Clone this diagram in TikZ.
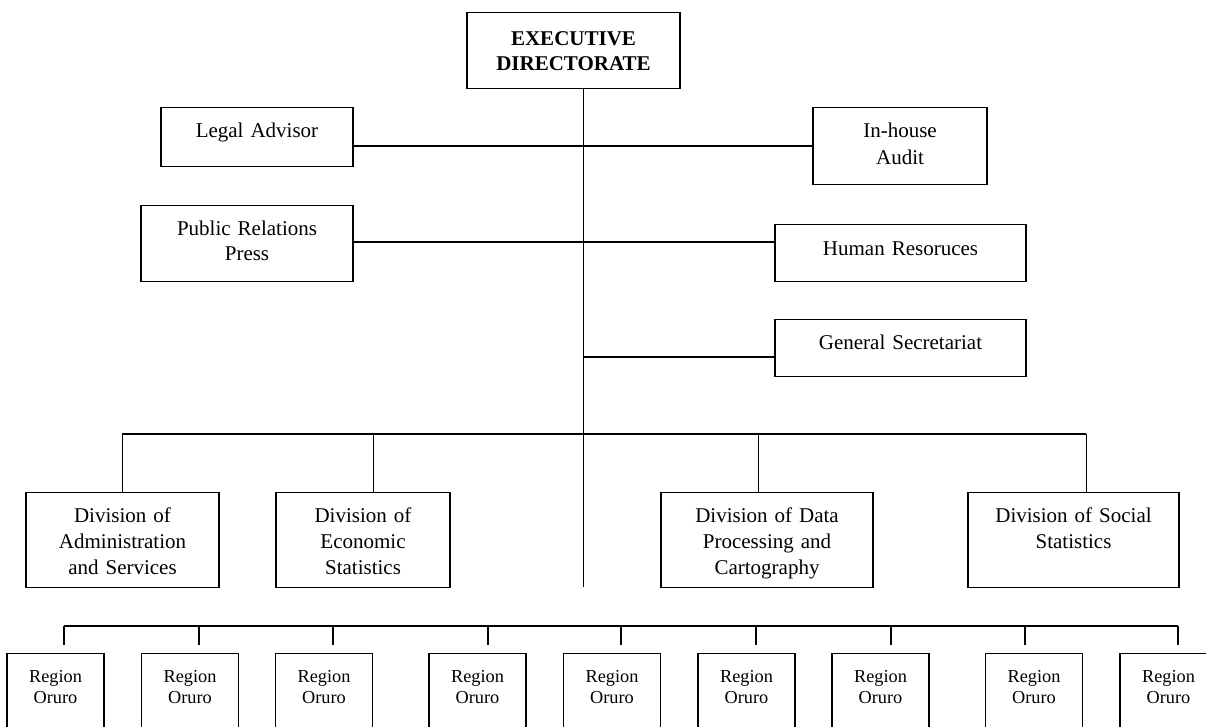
\documentclass[tikz,border=0pt]{standalone}
\usepackage{fontspec}
\setmainfont{Liberation Serif}
\usetikzlibrary{positioning, calc}

\begin{document}
\begin{tikzpicture}[x=1pt, y=-1pt,
	box/.style={draw, line width=1.4pt, inner sep=0pt, anchor=north, align=center,
		font=\fontsize{21}{26}\selectfont, text height=30pt},
	region/.style={box, font=\fontsize{18.3}{21}\selectfont, text width=97pt,
		text height=29pt, text depth=63pt},
	link/.style={line width=1.4pt},
	thin link/.style={line width=0.9pt}]
	\clip (0,0) rectangle (1206,727);
	\fill[white] (0,0) rectangle (1206,727);
	% top level
	\node[box, text width=213pt, text height=33pt, text depth=43pt,
		font=\bfseries\fontsize{21}{25}\selectfont] (ED) at (573.5,12) {EXECUTIVE\\DIRECTORATE};
	\node[box, text width=192pt, text depth=29pt] (LA) at (257,107) {Legal Advisor};
	\node[box, text width=174pt, text depth=47pt, font=\fontsize{21}{27}\selectfont] (IA) at (900,107) {In-house\\Audit};
	\node[box, text width=212pt, text depth=46pt, font=\fontsize{21}{25}\selectfont] (PR) at (247,205) {Public Relations\\Press};
	\node[box, text width=251pt, text height=31pt, text depth=26pt] (HR) at (900.5,224) {Human Resoruces};
	\node[box, text width=251pt, text depth=27pt] (GS) at (900.5,319) {General Secretariat};
	% divisions
	\node[box, text width=193pt, text depth=65pt] (DA) at (122.5,492) {Division of\\Administration\\and Services};
	\node[box, text width=174pt, text depth=65pt] (DE) at (363,492) {Division of\\Economic\\Statistics};
	\node[box, text width=212pt, text depth=65pt] (DD) at (767,492) {Division of Data\\Processing and\\Cartography};
	\node[box, text width=211pt, text depth=65pt] (DS) at (1073.5,492) {Division of Social\\Statistics};
	% trunk and branches
	\coordinate (T) at (583,587);
	\coordinate (J1) at (583,146);
	\coordinate (J2) at (583,242);
	\coordinate (J3) at (583,357);
	\draw[thin link] (ED.south -| T) -- (T);
	\draw[link] (LA.east |- J1) -- (IA.west |- J1);
	\draw[link] (PR.east |- J2) -- (HR.west |- J2);
	\draw[link] (J3) -- (GS.west |- J3);
	\coordinate (B1) at (122,434);
	\coordinate (B2) at (373,434);
	\coordinate (B3) at (758,434);
	\coordinate (B4) at (1086,434);
	\draw[link] (B1) -- (B4);
	\foreach \b/\d in {B1/DA, B2/DE, B3/DD, B4/DS}
		\draw[thin link] (\b) -- (\b |- \d.north);
	% regions
	\foreach \cx/\dx [count=\i] in {55.5/64, 190/199, 324/333, 477.5/488, 612/621,
			746.5/756, 880.5/891, 1034/1025, 1168.5/1178} {
		\node[region] (R\i) at (\cx,653) {Region\\Oruro};
		\coordinate (D\i) at (\dx,626);
		\draw[link] (D\i) -- ++(0,19);
	}
	\draw[link] (D1) -- (D9);
\end{tikzpicture}
\end{document}
